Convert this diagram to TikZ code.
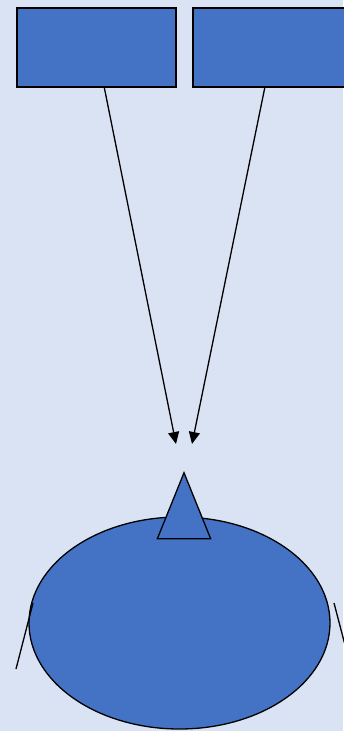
\documentclass[tikz,border=0pt]{standalone}
\usepackage{xcolor}
\usepackage{tikz}
\usetikzlibrary{arrows.meta,shapes.geometric}
\definecolor{panelbg}{HTML}{DAE3F3}
\definecolor{shapeblue}{HTML}{4472C4}

\begin{document}
\begin{tikzpicture}[
    x=1pt,y=-1pt,
    block/.style={draw,line width=1.6pt,fill=shapeblue,minimum width=159pt,
      minimum height=79pt,inner sep=0pt,anchor=north west},
    body/.style={draw,line width=1.3pt,fill=shapeblue,ellipse,minimum width=301pt,
      minimum height=212pt,inner sep=0pt},
    pointer/.style={draw,line width=1.3pt,fill=shapeblue,isosceles triangle,
      isosceles triangle apex angle=44,shape border rotate=90,
      minimum height=66pt,inner sep=0pt,anchor=apex},
    feed/.style={-{Triangle[length=12pt,width=11pt]},line width=1.3pt},
    stroke/.style={line width=1.3pt}
  ]
    \fill[panelbg] (0,0) rectangle (343,731);
    \useasboundingbox (0,0) rectangle (343,731);

    \node[block] (left) at (16,7) {};
    \node[block] (right) at (192,7) {};
    \node[body] (base) at (179.5,623) {};
    \node[pointer] (tip) at (184,471) {};

    \coordinate (lend) at (176,444);
    \coordinate (rend) at (192,444);
    \draw[feed] ([xshift=8pt]left.south) -- (lend);
    \draw[feed] ([xshift=-7.5pt]right.south) -- (rend);

    % side strokes
    \coordinate (la) at (33,603);
    \coordinate (lb) at (16,669);
    \coordinate (ra) at (334,603);
    \coordinate (rb) at (345,645);
    \draw[stroke] (la) -- (lb);
    \draw[stroke] (ra) -- (rb);
  \end{tikzpicture}
\end{document}
